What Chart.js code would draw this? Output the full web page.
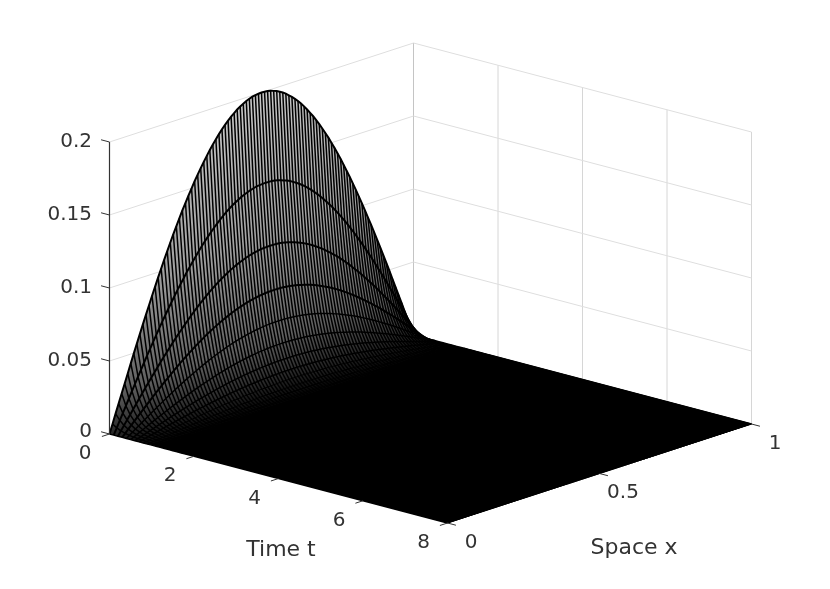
<!DOCTYPE html>
<html>
<head>
<meta charset="utf-8">
<style>
  html, body { margin: 0; padding: 0; background: #fff; }
  canvas { display: block; }
</style>
<script src="https://cdn.jsdelivr.net/npm/chart.js@4"></script>
</head>
<body>
<canvas id="chart" width="830" height="589"></canvas>
<script>
const timeValues = [0, 0.1, 0.2, 0.3, 0.4, 0.5, 0.6, 0.7, 0.8, 0.9, 1, 1.1, 1.2, 1.3, 1.4, 1.5, 1.6, 1.7, 1.8, 8];
const crestValues = [0.2, 0.139, 0.0966, 0.0671, 0.0466, 0.0322, 0.0226, 0.0158, 0.011, 0.0075, 0.0052, 0.0036, 0.0025, 0.0018, 0.0012, 0.0008, 0.0006, 0.0004, 0.0002, 0];

// space grid and the arch shape across it (share of the crest)
const spaceValues = [0, 0.01, 0.02, 0.03, 0.04, 0.05, 0.06, 0.07, 0.08, 0.09, 0.1, 0.11, 0.12, 0.13, 0.14, 0.15, 0.16, 0.17, 0.18, 0.19, 0.2, 0.21, 0.22, 0.23, 0.24, 0.25, 0.26, 0.27, 0.28, 0.29, 0.3, 0.31, 0.32, 0.33, 0.34, 0.35, 0.36, 0.37, 0.38, 0.39, 0.4, 0.41, 0.42, 0.43, 0.44, 0.45, 0.46, 0.47, 0.48, 0.49, 0.5, 0.51, 0.52, 0.53, 0.54, 0.55, 0.56, 0.57, 0.58, 0.59, 0.6, 0.61, 0.62, 0.63, 0.64, 0.65, 0.66, 0.67, 0.68, 0.69, 0.7, 0.71, 0.72, 0.73, 0.74, 0.75, 0.76, 0.77, 0.78, 0.79, 0.8, 0.81, 0.82, 0.83, 0.84, 0.85, 0.86, 0.87, 0.88, 0.89, 0.9, 0.91, 0.92, 0.93, 0.94, 0.95, 0.96, 0.97, 0.98, 0.99, 1];
const archValues = [0, 0.031, 0.063, 0.094, 0.125, 0.156, 0.187, 0.218, 0.249, 0.279, 0.309, 0.339, 0.368, 0.397, 0.426, 0.454, 0.482, 0.509, 0.536, 0.562, 0.588, 0.613, 0.637, 0.661, 0.685, 0.707, 0.729, 0.75, 0.771, 0.79, 0.809, 0.827, 0.844, 0.861, 0.876, 0.891, 0.905, 0.918, 0.93, 0.941, 0.951, 0.96, 0.969, 0.976, 0.982, 0.988, 0.992, 0.996, 0.998, 0.999, 1, 0.999, 0.998, 0.996, 0.992, 0.988, 0.982, 0.976, 0.969, 0.96, 0.951, 0.941, 0.93, 0.918, 0.905, 0.891, 0.876, 0.861, 0.844, 0.827, 0.809, 0.79, 0.771, 0.75, 0.729, 0.707, 0.685, 0.661, 0.637, 0.613, 0.588, 0.562, 0.536, 0.509, 0.482, 0.454, 0.426, 0.397, 0.368, 0.339, 0.309, 0.279, 0.249, 0.218, 0.187, 0.156, 0.125, 0.094, 0.063, 0.031, 0];

// axis ticks
const timeTicks = [0, 2, 4, 6, 8];
const spaceTicks = [0, 0.5, 1];
const heightTicks = [0, 0.05, 0.1, 0.15, 0.2];
const timeTitle = 'Time t';
const spaceTitle = 'Space x';

// orthographic view: where the box corners land on the page
const view = {
  ox: 109.5, oy: 434,
  tx: 338 / 8, ty: 89 / 8,
  sx: 304, sy: -99,
  zy: -292 / 0.2
};

function project(t, s, z) {
  return {
    x: view.ox + view.tx * t + view.sx * s,
    y: view.oy + view.ty * t + view.sy * s + view.zy * z
  };
}

function lineSet(points, color, width, order, extra) {
  return Object.assign({
    data: points,
    showLine: true,
    borderColor: color,
    borderWidth: width,
    pointRadius: 0,
    fill: false,
    tension: 0,
    order: order
  }, extra || {});
}

const ctx = document.getElementById('chart').getContext('2d');
const datasets = [];
const gridColor = '#dedede';
const axisColor = '#333333';

// box grid on the two back walls
heightTicks.forEach(z => {
  datasets.push(lineSet([project(0, 0, z), project(0, 1, z), project(8, 1, z)], gridColor, 1, 30));
});
timeTicks.forEach(t => {
  const c = t === 0 ? '#c4c4c4' : '#d6d6d6';
  datasets.push(lineSet([project(t, 1, 0), project(t, 1, 0.2)], c, 1, 30));
});

// grey backing for the surface, going black where the slices crowd together
const shade = ctx.createLinearGradient(209, 113, 305, 398);
shade.addColorStop(0, '#c8c8c8');
shade.addColorStop(0.45, '#a0a0a0');
shade.addColorStop(0.78, '#606060');
shade.addColorStop(1, '#000000');
const outline = spaceValues.map((s, j) => project(0, s, crestValues[0] * archValues[j]));
outline.push(project(8, 1, 0), project(8, 0, 0));
datasets.push(lineSet(outline, 'rgba(0,0,0,0)', 0, 20, { fill: 'shape', backgroundColor: shade }));

// lines of constant space
spaceValues.forEach((s, j) => {
  const pts = timeValues.map((t, i) => project(t, s, crestValues[i] * archValues[j]));
  datasets.push(lineSet(pts, '#000000', 1.5, 10));
});

// lines of constant time, thinner once they crowd together
timeValues.forEach((t, i) => {
  const pts = spaceValues.map((s, j) => project(t, s, crestValues[i] * archValues[j]));
  datasets.push(lineSet(pts, '#000000', i < 4 ? 2 : i < 8 ? 1.5 : 1, 5));
});

// the flat part of the sheet closes up to solid black
const flatFrom = 12;
const flat = spaceValues.map((s, j) => project(timeValues[flatFrom], s, crestValues[flatFrom] * archValues[j]));
flat.push(project(8, 1, 0), project(8, 0, 0));
datasets.push(lineSet(flat, '#000000', 1, 4, { fill: 'shape', backgroundColor: '#000000' }));

// axis line and tick marks
datasets.push(lineSet([project(0, 0, 0), project(0, 0, 0.2)], axisColor, 1.2, 2));
heightTicks.forEach(z => {
  datasets.push(lineSet([project(0, 0, z), project(-0.2, 0, z)], axisColor, 1, 2));
});
timeTicks.forEach(t => {
  datasets.push(lineSet([project(t, 0, 0), project(t, -0.025, 0)], axisColor, 1, 2));
});
spaceTicks.forEach(s => {
  datasets.push(lineSet([project(8, s, 0), project(8.2, s, 0)], axisColor, 1, 2));
});

// tick labels and axis titles, placed relative to the projected axes
const boxLabels = {
  id: 'boxLabels',
  afterDatasetsDraw(chart) {
    const c = chart.ctx;
    const xs = chart.scales.x;
    const ys = chart.scales.y;
    const put = (text, p, dx, dy, size, align) => {
      c.font = size + 'px "DejaVu Sans"';
      c.fillStyle = '#333333';
      c.textAlign = align;
      c.textBaseline = 'middle';
      c.fillText(text, xs.getPixelForValue(p.x) + dx, ys.getPixelForValue(p.y) + dy);
    };
    c.save();
    heightTicks.forEach(z => put(String(z), project(0, 0, z), -17.5, z === 0 ? -2 : 0, 20, 'right'));
    timeTicks.forEach(t => put(String(t), project(t, 0, 0), t === 0 ? -24.5 : -24, 20, 20, 'center'));
    spaceTicks.forEach(s => put(String(s), project(8, s, 0), 23.5, 19.5, 20, 'center'));
    put(timeTitle, project(4, 0, 0), 2.5, 71.5, 22, 'center');
    put(spaceTitle, project(8, 0.5, 0), 34.5, 75, 22, 'center');
    c.restore();
  }
};

new Chart(ctx, {
  type: 'scatter',
  data: { datasets: datasets },
  options: {
    responsive: false,
    animation: false,
    layout: { padding: 0 },
    plugins: { legend: { display: false }, tooltip: { enabled: false } },
    scales: {
      x: { type: 'linear', min: 0, max: 830, display: false },
      y: { type: 'linear', min: 0, max: 589, reverse: true, display: false }
    }
  },
  plugins: [boxLabels]
});
</script>
</body>
</html>
